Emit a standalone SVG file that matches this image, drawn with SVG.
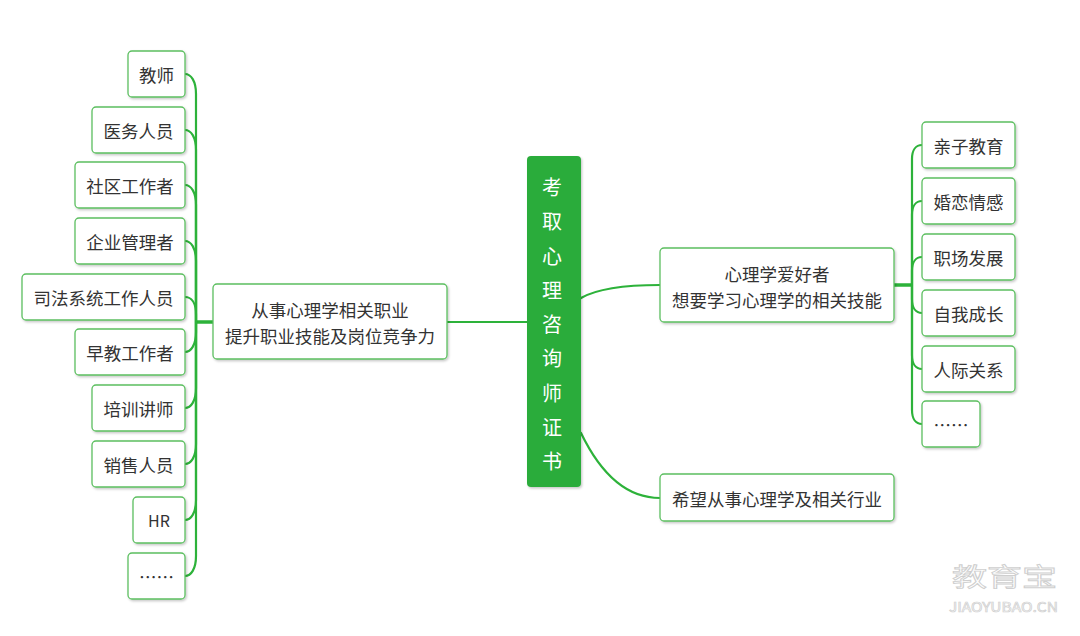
<svg xmlns="http://www.w3.org/2000/svg" width="1080" height="636" viewBox="0 0 1080 636">
<defs>
<filter id="sh" x="-20%" y="-20%" width="140%" height="140%">
<feDropShadow dx="1.2" dy="1.5" stdDeviation="1" flood-color="#000" flood-opacity="0.22"/>
</filter>
<style>
.box{fill:#fff;stroke:#5cbf60;stroke-width:1.3;filter:url(#sh)}
.t{font-family:"Noto Sans CJK SC","Liberation Sans",sans-serif;font-size:17.5px;fill:#333;text-anchor:middle;dominant-baseline:central}
.ct{font-family:"Noto Sans CJK SC","Liberation Sans",sans-serif;font-size:20px;fill:#fff;text-anchor:middle;dominant-baseline:central}
.c{fill:none;stroke:#2db23a;stroke-width:2.2;stroke-linecap:round}
.j{fill:none;stroke:#2db23a;stroke-width:3.5}
.wm{font-family:"Noto Sans CJK SC","Liberation Sans",sans-serif;fill:#fff;stroke:#cfcfcf;stroke-width:0.9}
</style>
</defs>
<rect width="1080" height="636" fill="#fff"/>

<g id="connectors">
<path class="j" d="M213 322 H196"/>
<path class="c" d="M196 322 V94 C196 81 191 74 185 74"/>
<path class="c" d="M196 322 V150 C196 137 191 130 185 130"/>
<path class="c" d="M196 322 V205 C196 192 191 185 185 185"/>
<path class="c" d="M196 322 V261 C196 248 191 241 185 241"/>
<path class="c" d="M196 322 V315 C196 302 191 297 185 297"/>
<path class="c" d="M196 322 V332 C196 345 191 352 185 352"/>
<path class="c" d="M196 322 V388 C196 401 191 408 185 408"/>
<path class="c" d="M196 322 V444 C196 457 191 464 185 464"/>
<path class="c" d="M196 322 V500 C196 513 191 520 185 520"/>
<path class="c" d="M196 322 V556 C196 569 191 576 185 576"/>
<path class="c" d="M447 322 H527"/>
<path class="c" d="M581 298 C600 287 630 285 660 285"/>
<path class="c" d="M581 433 C595 462 620 498 660 498"/>
<path class="j" d="M894 285 H912"/>
<path class="c" d="M912 285 V159 C912 150 916 145 922 145"/>
<path class="c" d="M912 285 V215 C912 206 916 201 922 201"/>
<path class="c" d="M912 285 V271 C912 262 916 257 922 257"/>
<path class="c" d="M912 285 V299 C912 308 916 313 922 313"/>
<path class="c" d="M912 285 V355 C912 364 916 369 922 369"/>
<path class="c" d="M912 285 V410 C912 419 916 424 922 424"/>
</g>

<g id="center">
<rect x="527" y="156" width="54" height="331" rx="4" fill="#2bac3b" filter="url(#sh)"/>
<text class="ct" x="552" y="186">考</text>
<text class="ct" x="552" y="220">取</text>
<text class="ct" x="552" y="255">心</text>
<text class="ct" x="552" y="289">理</text>
<text class="ct" x="552" y="323">咨</text>
<text class="ct" x="552" y="357">询</text>
<text class="ct" x="552" y="392">师</text>
<text class="ct" x="552" y="426">证</text>
<text class="ct" x="552" y="460">书</text>
</g>

<g id="node-left">
<rect class="box" x="213" y="284" width="234" height="75" rx="4"/>
<text class="t" x="330" y="309">从事心理学相关职业</text>
<text class="t" x="330" y="335">提升职业技能及岗位竞争力</text>
</g>
<g id="node-hobby">
<rect class="box" x="660" y="248" width="234" height="74" rx="4"/>
<text class="t" x="777" y="273">心理学爱好者</text>
<text class="t" x="777" y="299">想要学习心理学的相关技能</text>
</g>
<g id="node-industry">
<rect class="box" x="660" y="474" width="234" height="47" rx="4"/>
<text class="t" x="777" y="498">希望从事心理学及相关行业</text>
</g>

<g id="leaf-l1"><rect class="box" x="128" y="51" width="57" height="46" rx="4"/><text class="t" x="156.5" y="74">教师</text></g>
<g id="leaf-l2"><rect class="box" x="92" y="107" width="93" height="46" rx="4"/><text class="t" x="138.5" y="130">医务人员</text></g>
<g id="leaf-l3"><rect class="box" x="75" y="162" width="110" height="46" rx="4"/><text class="t" x="130" y="185">社区工作者</text></g>
<g id="leaf-l4"><rect class="box" x="75" y="218" width="110" height="46" rx="4"/><text class="t" x="130" y="241">企业管理者</text></g>
<g id="leaf-l5"><rect class="box" x="22" y="274" width="163" height="46" rx="4"/><text class="t" x="103.5" y="297">司法系统工作人员</text></g>
<g id="leaf-l6"><rect class="box" x="75" y="329" width="110" height="46" rx="4"/><text class="t" x="130" y="352">早教工作者</text></g>
<g id="leaf-l7"><rect class="box" x="92" y="385" width="93" height="46" rx="4"/><text class="t" x="138.5" y="408">培训讲师</text></g>
<g id="leaf-l8"><rect class="box" x="92" y="441" width="93" height="46" rx="4"/><text class="t" x="138.5" y="464">销售人员</text></g>
<g id="leaf-l9"><rect class="box" x="133" y="497" width="52" height="46" rx="4"/><text class="t" x="159" y="520" style="font-size:16px">HR</text></g>
<g id="leaf-l10"><rect class="box" x="128" y="553" width="57" height="46" rx="4"/><text class="t" x="156.5" y="576">……</text></g>

<g id="leaf-r1"><rect class="box" x="922" y="122" width="93" height="46" rx="4"/><text class="t" x="968.5" y="145">亲子教育</text></g>
<g id="leaf-r2"><rect class="box" x="922" y="178" width="93" height="46" rx="4"/><text class="t" x="968.5" y="201">婚恋情感</text></g>
<g id="leaf-r3"><rect class="box" x="922" y="234" width="93" height="46" rx="4"/><text class="t" x="968.5" y="257">职场发展</text></g>
<g id="leaf-r4"><rect class="box" x="922" y="290" width="93" height="46" rx="4"/><text class="t" x="968.5" y="313">自我成长</text></g>
<g id="leaf-r5"><rect class="box" x="922" y="346" width="93" height="46" rx="4"/><text class="t" x="968.5" y="369">人际关系</text></g>
<g id="leaf-r6"><rect class="box" x="922" y="401" width="58" height="46" rx="4"/><text class="t" x="951" y="424">……</text></g>

<g id="watermark">
<text class="wm" x="952" y="586" font-size="25" textLength="105" lengthAdjust="spacingAndGlyphs">教育宝</text>
<text class="wm" x="949" y="612" font-size="13.5" textLength="109" lengthAdjust="spacingAndGlyphs" style="stroke-width:0.7">JIAOYUBAO.CN</text>
</g>
</svg>
